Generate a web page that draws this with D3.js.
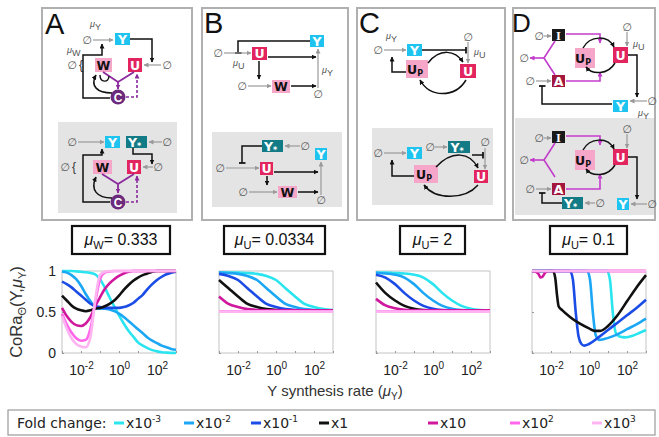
<!DOCTYPE html>
<html>
<head>
<meta charset="utf-8">
<script src="https://cdn.jsdelivr.net/npm/d3@7"></script>
<style>
body { margin: 0; background: #fff; }
svg { display: block; font-family: "Liberation Sans", Arial, sans-serif; }
</style>
</head>
<body>
<svg id="fig" width="659" height="437"></svg>
<script>
// ---- data (x values are log10 of the Y synthesis rate) ----
const foldExp = ["-3", "-2", "-1", "", "", "2", "3"];
const foldBase = ["x10", "x10", "x10", "x1", "x10", "x10", "x10"];
const foldColors = ["#2ae4f0", "#1ca7f4", "#1b4ce6", "#111111", "#cf189e", "#ff66ea", "#ffb4f2"];

const paramSub = ["W", "U", "U", "U"];
const paramVal = ["0.333", "0.0334", "2", "0.1"];

const gridA = [-3, -2.75, -2.5, -2.25, -2, -1.75, -1.5, -1.25, -1, -0.75, -0.5, -0.25, 0,
  0.25, 0.5, 0.75, 1, 1.25, 1.5, 1.75, 2, 2.25, 2.5, 2.75, 3];
const coraA = [
  [1, 1, 1, 0.995, 0.99, 0.985, 0.975, 0.96, 0.9, 0.8, 0.68, 0.57, 0.46, 0.36, 0.27, 0.2, 0.13, 0.09, 0.06, 0.035, 0.02, 0.01, 0.005, 0.002, 0],
  [0.99, 0.98, 0.95, 0.9, 0.82, 0.72, 0.63, 0.56, 0.54, 0.54, 0.53, 0.51, 0.48, 0.44, 0.39, 0.34, 0.29, 0.24, 0.19, 0.15, 0.12, 0.09, 0.07, 0.05, 0.04],
  [0.87, 0.84, 0.8, 0.75, 0.7, 0.65, 0.6, 0.57, 0.56, 0.55, 0.55, 0.55, 0.55, 0.56, 0.58, 0.61, 0.66, 0.71, 0.78, 0.84, 0.89, 0.93, 0.96, 0.98, 0.99],
  [0.7, 0.64, 0.58, 0.54, 0.52, 0.51, 0.52, 0.54, 0.55, 0.57, 0.6, 0.64, 0.7, 0.77, 0.83, 0.88, 0.92, 0.95, 0.97, 0.99, 1, 1, 1, 1, 1],
  [0.55, 0.45, 0.38, 0.34, 0.33, 0.36, 0.44, 0.57, 0.68, 0.78, 0.85, 0.9, 0.94, 0.97, 0.99, 1, 1, 1, 1, 1, 1, 1, 1, 1, 1],
  [0.48, 0.35, 0.25, 0.18, 0.15, 0.16, 0.3, 0.62, 0.9, 0.98, 0.995, 1, 1, 1, 1, 1, 1, 1, 1, 1, 1, 1, 1, 1, 1],
  [0.45, 0.3, 0.18, 0.11, 0.08, 0.07, 0.2, 0.65, 0.95, 0.99, 1, 1, 1, 1, 1, 1, 1, 1, 1, 1, 1, 1, 1, 1, 1]
];

const gridBC = [-3, -2.5, -2, -1.5, -1, -0.5, 0, 0.5, 1, 1.5, 2, 2.5, 3];
const coraB = [
  [0.98, 0.98, 0.98, 0.975, 0.965, 0.94, 0.89, 0.79, 0.69, 0.6, 0.56, 0.535, 0.525],
  [0.98, 0.975, 0.965, 0.94, 0.89, 0.79, 0.69, 0.6, 0.56, 0.535, 0.525, 0.52, 0.52],
  [0.965, 0.94, 0.89, 0.79, 0.69, 0.6, 0.56, 0.535, 0.525, 0.52, 0.52, 0.52, 0.52],
  [0.89, 0.79, 0.69, 0.6, 0.56, 0.535, 0.525, 0.52, 0.52, 0.52, 0.52, 0.52, 0.52],
  [0.69, 0.6, 0.56, 0.535, 0.525, 0.52, 0.52, 0.52, 0.52, 0.52, 0.52, 0.52, 0.52],
  [0.51, 0.51, 0.51, 0.51, 0.51, 0.51, 0.51, 0.51, 0.51, 0.51, 0.51, 0.51, 0.51],
  [0.505, 0.505, 0.505, 0.505, 0.505, 0.505, 0.505, 0.505, 0.505, 0.505, 0.505, 0.505, 0.505]
];
const coraC = [
  [0.98, 0.98, 0.975, 0.97, 0.955, 0.92, 0.84, 0.73, 0.64, 0.575, 0.54, 0.525, 0.52],
  [0.975, 0.97, 0.955, 0.92, 0.84, 0.73, 0.64, 0.575, 0.54, 0.525, 0.52, 0.52, 0.52],
  [0.955, 0.92, 0.84, 0.73, 0.64, 0.575, 0.54, 0.525, 0.52, 0.52, 0.52, 0.52, 0.52],
  [0.86, 0.73, 0.64, 0.575, 0.54, 0.525, 0.52, 0.52, 0.52, 0.52, 0.52, 0.52, 0.52],
  [0.66, 0.58, 0.545, 0.528, 0.52, 0.52, 0.52, 0.52, 0.52, 0.52, 0.52, 0.52, 0.52],
  [0.51, 0.51, 0.51, 0.51, 0.51, 0.51, 0.51, 0.51, 0.51, 0.51, 0.51, 0.51, 0.51],
  [0.505, 0.505, 0.505, 0.505, 0.505, 0.505, 0.505, 0.505, 0.505, 0.505, 0.505, 0.505, 0.505]
];
// panel D: [log10 muY, CoRa] pairs, the drops are sharp
const coraD = [
  [[-3, 1], [0.95, 1], [1.1, 0.9], [1.25, 0.5], [1.4, 0.25], [1.6, 0.2], [1.9, 0.19], [2.3, 0.21], [2.7, 0.25], [3, 0.28]],
  [[-3, 1], [-0.1, 1], [0.05, 0.9], [0.2, 0.5], [0.35, 0.22], [0.55, 0.16], [0.8, 0.17], [1.2, 0.2], [1.6, 0.24], [2, 0.29], [2.5, 0.35], [3, 0.42]],
  [[-3, 1], [-1, 1], [-0.85, 0.9], [-0.7, 0.5], [-0.55, 0.2], [-0.4, 0.11], [-0.25, 0.09], [0, 0.11], [0.5, 0.19], [1, 0.28], [1.5, 0.37], [2, 0.46], [2.5, 0.55], [3, 0.65]],
  [[-3, 1], [-1.9, 1], [-1.78, 0.92], [-1.68, 0.7], [-1.6, 0.57], [-1.4, 0.52], [-1, 0.44], [-0.5, 0.36], [0, 0.3], [0.3, 0.27], [0.6, 0.27], [1, 0.33], [1.5, 0.46], [2, 0.63], [2.5, 0.8], [3, 0.95]],
  [[-3, 1], [-2.8, 0.99], [-2.65, 0.96], [-2.55, 0.92], [-2.45, 0.93], [-2.3, 0.98], [-2.1, 1], [3, 1]],
  [[-3, 1], [3, 1]],
  [[-3, 1], [3, 1]]
];

const xTickExp = [-2, 0, 2];
const yTicks = [0, 0.5, 1];

// ---- layout ----
const svg = d3.select("#fig");
const plotLeft = [62, 219, 376, 532];
const plotTop = 271, plotW = 114, plotH = 82;

const defs = svg.append("defs");
const COL = { k: "#111", g: "#9a9a9a", p: "#8b2a9d", m: "#c23ccc" };
Object.keys(COL).forEach(k => {
  defs.append("marker").attr("id", "ah-" + k).attr("viewBox", "0 0 10 10")
    .attr("refX", 9).attr("refY", 5).attr("markerWidth", 5).attr("markerHeight", 5)
    .attr("markerUnits", "userSpaceOnUse").attr("orient", "auto")
    .append("path").attr("d", "M0,0L10,5L0,10z").attr("fill", COL[k]);
});
defs.append("marker").attr("id", "tb").attr("viewBox", "0 0 10 10")
  .attr("refX", 9).attr("refY", 5).attr("markerWidth", 7).attr("markerHeight", 7)
  .attr("markerUnits", "userSpaceOnUse").attr("orient", "auto")
  .append("path").attr("d", "M9,0V10").attr("stroke", "#111").attr("stroke-width", 2.5);

// ---- network diagrams ----
const dg = svg.append("g");
[[42, 150], [202, 146], [357, 148], [513, 142]].forEach(([x, w]) => {
  dg.append("rect").attr("x", x).attr("y", 8).attr("width", w).attr("height", 212)
    .attr("fill", "#fff").attr("stroke", "#b0b0b0").attr("stroke-width", 2);
});
[[58, 122, 119, 91], [212, 132, 130, 75], [372, 128, 121, 77], [515, 118, 139, 97]].forEach(([x, y, w, h]) => {
  dg.append("rect").attr("x", x).attr("y", y).attr("width", w).attr("height", h).attr("fill", "#e4e4e4");
});
[["A", 45, 34, 29], ["B", 204, 33, 29], ["C", 359, 33, 29], ["D", 512, 32, 26]].forEach(([t, x, y, s]) => {
  dg.append("text").attr("x", x).attr("y", y).attr("font-size", s).attr("fill", "#111").text(t);
});

function seg(pts, c, end, w, dash) {
  const p = dg.append("path").attr("d", d3.line()(pts)).attr("fill", "none")
    .attr("stroke", COL[c]).attr("stroke-width", w || 1.5);
  if (end) p.attr("marker-end", `url(#${end})`);
  if (dash) p.attr("stroke-dasharray", dash);
}
function curve(d, c, end) {
  dg.append("path").attr("d", d).attr("fill", "none").attr("stroke", COL[c])
    .attr("stroke-width", 1.5).attr("marker-end", `url(#${end})`);
}
function nul(x, y) {
  dg.append("text").attr("x", x).attr("y", y + 4).attr("text-anchor", "middle")
    .attr("font-family", "DejaVu Sans").attr("font-size", 11).attr("fill", "#555").text("\u2205");
}
function node(x, y, w, h, fill, label, color, sub, serif) {
  dg.append("rect").attr("x", x).attr("y", y).attr("width", w).attr("height", h).attr("fill", fill);
  const t = dg.append("text").attr("x", x + w / 2 - (sub ? 2 : 0)).attr("y", y + h / 2 + 4.5)
    .attr("text-anchor", "middle").attr("font-family", serif ? "Liberation Serif" : "DejaVu Sans")
    .attr("font-weight", "bold").attr("font-size", 12.5).attr("fill", color).text(label);
  if (sub) t.append("tspan").attr("font-size", 8).attr("dy", 2).text(sub);
}
function sym(x, y, sub) {
  const t = dg.append("text").attr("x", x).attr("y", y).attr("font-size", 9).attr("fill", "#555");
  t.append("tspan").attr("font-style", "italic").text("\u03bc");
  t.append("tspan").attr("dy", 3).text(sub);
}
const cY = "#1ec3f0", cYs = "#137b86", cU = "#e2245f", cW = "#f6a6c8", cC = "#6b2a7c", cI = "#1a1a1a", cA = "#a3173f";
function circleC(x, y) {
  dg.append("circle").attr("cx", x).attr("cy", y).attr("r", 7.5).attr("fill", cC);
  dg.append("text").attr("x", x).attr("y", y + 4.5).attr("text-anchor", "middle").attr("font-weight", "bold")
    .attr("font-size", 12).attr("fill", "#fff").text("C");
}

// A top
sym(90, 27, "Y"); nul(87, 40); seg([[93, 40], [113, 40]], "g", "ah-g", 1.2);
node(115, 33, 15, 12, cY, "Y", "#fff");
seg([[130, 39], [152, 39], [152, 62]], "k", "ah-k");
sym(67, 53, "W"); nul(72, 65);
dg.append("text").attr("x", 79).attr("y", 69).attr("font-size", 12).attr("fill", "#333").text("{");
node(95, 58, 17, 14, cW, "W", "#111");
node(128, 58, 14, 14, cU, "U", "#fff");
nul(167, 65); seg([[161, 65], [144, 65]], "g", "ah-g", 1.2);
seg([[103, 72], [118, 82]], "p", null, 1.8); seg([[134, 72], [118, 82], [118, 89]], "p", "ah-p", 1.8);
circleC(118, 97);
seg([[126, 97], [137, 97], [137, 74]], "p", "ah-p", 1.6, "3,2");
seg([[110, 98], [83, 98], [83, 55], [102, 55], [102, 44]], "k", "ah-k");
curve("M112,93 C97,93 90,86 96,75", "k", "ah-k");
dg.append("path").attr("d", "M100,75 C100,83 109,83 109,76").attr("fill", "none").attr("stroke", "#111").attr("stroke-width", 1.4);

// A bottom
nul(72, 142); seg([[78, 142], [104, 142]], "g", "ah-g", 1.2);
node(105, 136, 15, 12, cY, "Y", "#fff");
node(126, 136, 21, 12, cYs, "Y", "#fff", "*");
nul(167, 142); seg([[162, 142], [149, 142]], "g", "ah-g", 1.2);
seg([[133, 148], [133, 154], [152, 154], [152, 164]], "k", "ah-k");
nul(65, 167);
dg.append("text").attr("x", 72).attr("y", 171).attr("font-size", 12).attr("fill", "#333").text("{");
node(93, 160, 19, 14, cW, "W", "#111");
node(127, 160, 14, 14, cU, "U", "#fff");
nul(158, 167); seg([[153, 167], [143, 167]], "g", "ah-g", 1.2);
seg([[110, 202], [83, 202], [83, 155], [102, 155], [102, 149]], "k", "ah-k");
seg([[102, 174], [118, 184]], "p", null, 1.8); seg([[134, 174], [118, 184], [118, 193]], "p", "ah-p", 1.8);
circleC(118, 202);
seg([[126, 202], [137, 202], [137, 176]], "p", "ah-p", 1.6, "3,2");
curve("M112,198 C97,198 90,190 96,177", "k", "ah-k");

// B top
node(310, 35, 14, 12, cY, "Y", "#fff");
seg([[310, 41], [238, 41], [238, 53]], "k", "tb");
nul(218, 53); seg([[224, 53], [251, 53]], "g", "ah-g", 1.2); sym(233, 66, "U");
node(252, 47, 15, 13, cU, "U", "#fff");
seg([[268, 57], [316, 57]], "k", "ah-k");
seg([[259, 61], [259, 79]], "k", "ah-k");
nul(242, 86); seg([[248, 86], [271, 86]], "g", "ah-g", 1.2);
node(272, 80, 18, 13, cW, "W", "#111");
seg([[291, 86], [316, 86]], "k", "ah-k");
nul(318, 94); seg([[318, 88], [318, 49]], "g", "ah-g", 1.2); sym(322, 73, "Y");

// B bottom
node(262, 140, 21, 12, cYs, "Y", "#fff", "*");
nul(305, 146); seg([[300, 146], [285, 146]], "g", "ah-g", 1.2);
node(315, 148, 12, 12, cY, "Y", "#fff");
seg([[262, 146], [242, 146], [242, 163]], "k", "tb");
nul(220, 168); seg([[226, 168], [259, 168]], "g", "ah-g", 1.2);
node(260, 162, 13, 13, cU, "U", "#fff");
seg([[274, 172], [318, 172]], "k", "ah-k");
seg([[267, 176], [267, 185]], "k", "ah-k");
nul(243, 192); seg([[249, 192], [277, 192]], "g", "ah-g", 1.2);
node(278, 186, 19, 12, cW, "W", "#111");
seg([[298, 192], [318, 192]], "k", "ah-k");
nul(321, 200); seg([[321, 195], [321, 162]], "g", "ah-g", 1.2);

// C top
nul(378, 50); sym(386, 39, "Y"); seg([[384, 50], [406, 50]], "g", "ah-g", 1.2);
node(407, 44, 15, 12, cY, "Y", "#fff");
seg([[422, 50], [466, 50]], "k", "tb");
nul(468, 37); seg([[468, 42], [468, 63]], "g", "ah-g", 1.2); sym(474, 55, "U");
node(460, 64, 16, 14, cU, "U", "#fff");
node(406, 60, 22, 18, cW, "U", "#111", "P");
seg([[406, 72], [392, 72], [392, 57]], "k", "ah-k");
curve("M428,63 C440,48 455,50 463,62", "k", "ah-k");
curve("M466,80 C455,98 430,98 420,80", "k", "ah-k");

// C bottom
nul(378, 153); seg([[384, 153], [406, 153]], "g", "ah-g", 1.2);
node(407, 147, 15, 12, cY, "Y", "#fff");
nul(430, 147); seg([[435, 147], [447, 147]], "g", "ah-g", 1.2);
node(448, 141, 22, 12, cYs, "Y", "#fff", "*");
nul(485, 142); seg([[485, 148], [485, 169]], "g", "ah-g", 1.2);
seg([[472, 155], [483, 155]], "k", "tb");
node(474, 170, 14, 13, cU, "U", "#fff");
node(414, 165, 24, 18, cW, "U", "#111", "P");
seg([[414, 176], [392, 176], [392, 160]], "k", "ah-k");
curve("M436,167 C452,150 470,152 478,168", "k", "ah-k");
curve("M478,185 C465,200 435,200 424,185", "k", "ah-k");

// D top and bottom share the I/A/U block
[0, 102].forEach(dy => {
  const ay = dy ? 6 : 0;
  nul(539, 36 + dy); seg([[544, 36 + dy], [551, 36 + dy]], "g", "ah-g", 1.2);
  node(552, 29 + dy, 13, 12, cI, "I", "#fff", null, true);
  seg([[566, 34 + dy], [600, 34 + dy], [600, 43 + dy]], "m", "ah-m", 1.6);
  seg([[555, 41 + dy], [544, 58 + dy], [555, 75 + dy]], "m", null, 1.6);
  seg([[544, 58 + dy], [530, 58 + dy]], "m", "ah-m", 1.6); nul(524, 58 + dy);
  nul(530, 81 + dy + ay); seg([[536, 81 + dy + ay], [551, 81 + dy + ay]], "g", "ah-g", 1.2);
  node(552, 75 + dy + ay, 13, 12, cA, "A", "#fff");
  seg([[566, 81 + dy + ay], [600, 81 + dy + ay], [600, 72 + dy]], "m", "ah-m", 1.6);
  node(575, 48 + dy, 20, 20, cW, "U", "#111", "P");
  node(613, 47 + dy, 15, 16, cU, "U", "#fff");
  nul(627, 27 + dy); seg([[627, 32 + dy], [627, 46 + dy]], "g", "ah-g", 1.2);
  curve(`M583,${48 + dy} C590,${35 + dy} 608,${35 + dy} 614,${47 + dy}`, "k", "ah-k");
  curve(`M615,${63 + dy} C608,${75 + dy} 592,${75 + dy} 586,${67 + dy}`, "k", "ah-k");
  seg([[628, 55 + dy], [637, 55 + dy], [637, 97 + dy]], "k", "ah-k");
});
sym(633, 47, "U");
node(613, 100, 15, 12, cY, "Y", "#fff");
nul(652, 101); seg([[647, 101], [630, 101]], "g", "ah-g", 1.2); sym(638, 116, "Y");
seg([[612, 104], [542, 104], [542, 86]], "k", "tb");
node(617, 198, 12, 12, cY, "Y", "#fff");
nul(652, 204); seg([[647, 204], [631, 204]], "g", "ah-g", 1.2);
node(562, 197, 21, 12, cYs, "Y", "#fff", "*");
nul(600, 203); seg([[595, 203], [585, 203]], "g", "ah-g", 1.2);
seg([[562, 203], [542, 203], [542, 193]], "k", "tb");

// ---- parameter boxes ----
[[72, 98], [224, 101], [400, 65], [550, 77]].forEach(([x, w], i) => {
  svg.append("rect").attr("x", x).attr("y", 226).attr("width", w).attr("height", 28)
    .attr("fill", "#fff").attr("stroke", "#111").attr("stroke-width", 2.2);
  const t = svg.append("text").attr("x", x + w / 2).attr("y", 245).attr("text-anchor", "middle")
    .attr("font-size", 16).attr("fill", "#111");
  t.append("tspan").attr("font-style", "italic").text("\u03bc");
  t.append("tspan").attr("font-size", 11).attr("dy", 4).text(paramSub[i]);
  t.append("tspan").attr("dy", -4).text("= " + paramVal[i]);
});

// ---- CoRa plots ----
const x = d3.scaleLog().domain([1e-3, 1e3]).range([0, plotW]);
const y = d3.scaleLinear().domain([0, 1]).range([plotH, 0]);
const line = d3.line().x(d => x(Math.pow(10, d[0]))).y(d => y(d[1])).curve(d3.curveMonotoneX);

const panels = [
  coraA.map(s => s.map((v, j) => [gridA[j], v])),
  coraB.map(s => s.map((v, j) => [gridBC[j], v])),
  coraC.map(s => s.map((v, j) => [gridBC[j], v])),
  coraD
];
const decades = [1e-3, 1e-2, 1e-1, 1, 1e1, 1e2, 1e3];

panels.forEach((series, i) => {
  const g = svg.append("g").attr("transform", `translate(${plotLeft[i]},${plotTop})`);
  g.append("rect").attr("width", plotW).attr("height", plotH).attr("fill", "#fff")
    .attr("stroke", "#c4c4c4").attr("stroke-width", 1);
  // inward ticks, MATLAB-like
  g.append("g").attr("transform", `translate(0,${plotH})`)
    .call(d3.axisTop(x).tickValues(decades).tickSize(2).tickFormat(""))
    .call(a => a.select(".domain").remove())
    .selectAll("line").attr("stroke", "#999");
  g.append("g").call(d3.axisRight(y).tickValues(yTicks).tickSize(2).tickFormat(""))
    .call(a => a.select(".domain").remove())
    .selectAll("line").attr("stroke", "#999");
  series.forEach((pts, k) => {
    g.append("path").attr("d", line(pts)).attr("fill", "none")
      .attr("stroke", foldColors[k]).attr("stroke-width", 2.6).attr("stroke-linejoin", "round");
  });
  // x tick labels
  const xl = g.append("g").attr("transform", `translate(0,${plotH})`)
    .call(d3.axisBottom(x).tickValues(xTickExp.map(e => Math.pow(10, e))).tickSize(0).tickPadding(12));
  xl.select(".domain").remove();
  xl.selectAll("text").attr("font-size", 14).attr("font-family", "Liberation Sans")
    .attr("fill", "#222").each(function (d) {
      const t = d3.select(this).text("10");
      t.append("tspan").attr("font-size", 10).attr("dy", "-0.55em").text(String(Math.round(Math.log10(d))));
    });
  if (i === 0) {
    const yl = g.append("g").call(d3.axisLeft(y).tickValues(yTicks).tickSize(0).tickPadding(6)
      .tickFormat(d3.format("")));
    yl.select(".domain").remove();
    yl.selectAll("text").attr("font-size", 14).attr("font-family", "Liberation Sans").attr("fill", "#222");
  }
});

// axis titles
const yt = svg.append("text").attr("transform", "translate(22,312) rotate(-90)")
  .attr("text-anchor", "middle").attr("font-size", 16.5).attr("fill", "#333");
yt.append("tspan").text("CoRa");
yt.append("tspan").attr("font-size", 11).attr("dy", 4).text("\u0398");
yt.append("tspan").attr("dy", -4).text("(Y,");
yt.append("tspan").attr("font-style", "italic").text("\u03bc");
yt.append("tspan").attr("font-size", 11).attr("dy", 4).text("Y");
yt.append("tspan").attr("dy", -4).text(")");

const xt = svg.append("text").attr("x", 335).attr("y", 396).attr("text-anchor", "middle")
  .attr("font-size", 15).attr("fill", "#333");
xt.append("tspan").text("Y synthesis rate (");
xt.append("tspan").attr("font-style", "italic").text("\u03bc");
xt.append("tspan").attr("font-size", 10).attr("dy", 4).text("Y");
xt.append("tspan").attr("dy", -4).text(")");

// ---- legend ----
svg.append("rect").attr("x", 8).attr("y", 410).attr("width", 647).attr("height", 25)
  .attr("fill", "#fff").attr("stroke", "#9a9a9a").attr("stroke-width", 1.2);
svg.append("text").attr("x", 17).attr("y", 428).attr("font-family", "DejaVu Sans")
  .attr("font-size", 14).attr("fill", "#222").text("Fold change:");
const legX = [114, 184, 251, 319, 428, 510, 592];
foldColors.forEach((c, k) => {
  svg.append("line").attr("x1", legX[k]).attr("x2", legX[k] + 10).attr("y1", 423).attr("y2", 423)
    .attr("stroke", c).attr("stroke-width", 3);
  const t = svg.append("text").attr("x", legX[k] + 12).attr("y", 428).attr("font-family", "DejaVu Sans")
    .attr("font-size", 14).attr("fill", "#222").text(foldBase[k]);
  if (foldExp[k]) t.append("tspan").attr("font-size", 9).attr("dy", -6).text(foldExp[k]);
});
</script>
</body>
</html>
